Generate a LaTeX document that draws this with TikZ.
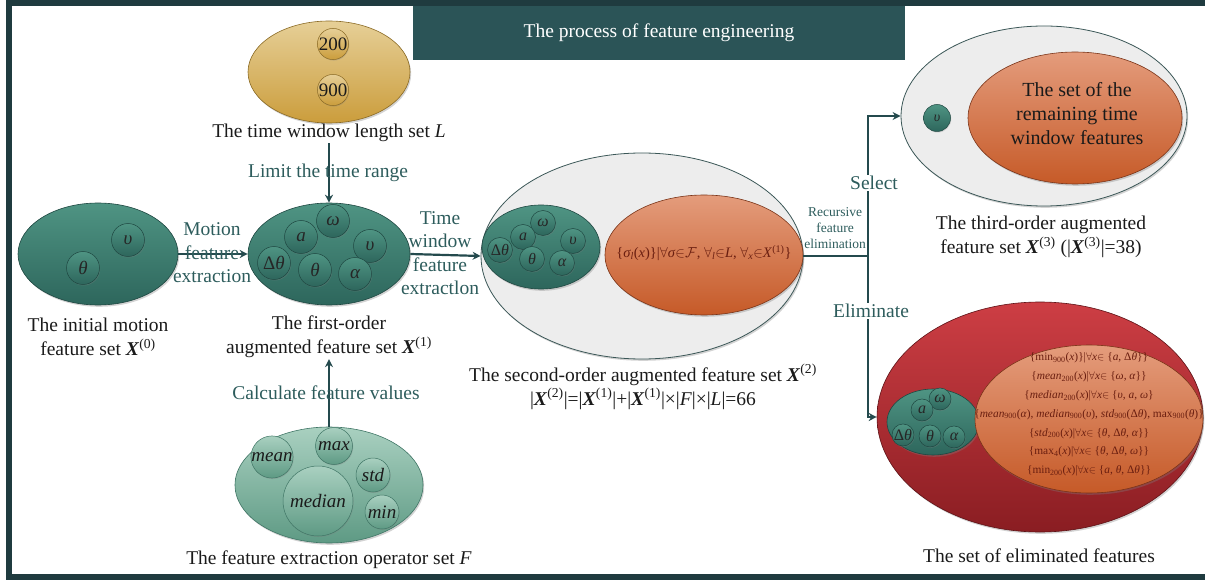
\documentclass[tikz,border=0pt]{standalone}
\usepackage{fontspec}
\setmainfont{Liberation Serif}
\usetikzlibrary{shapes.geometric,shadows,arrows.meta}
\definecolor{framec}{HTML}{1F3B3F}
\definecolor{bannerc}{HTML}{2B5457}
\definecolor{tealtxt}{HTML}{2D5C5C}
\definecolor{arrc}{HTML}{244A4D}
\definecolor{tealT}{HTML}{4F9483}
\definecolor{tealB}{HTML}{2D665C}
\definecolor{tealD}{HTML}{1F4842}
\definecolor{goldT}{HTML}{E6CF97}
\definecolor{goldB}{HTML}{CB9D3C}
\definecolor{goldD}{HTML}{8A6A25}
\definecolor{ltealT}{HTML}{A9D0C0}
\definecolor{ltealB}{HTML}{5E9A84}
\definecolor{ltealD}{HTML}{3F7565}
\definecolor{greyF}{HTML}{EDEDED}
\definecolor{greyD}{HTML}{3B5757}
\definecolor{orT}{HTML}{E49C7C}
\definecolor{orB}{HTML}{C65A28}
\definecolor{orD}{HTML}{7A3418}
\definecolor{redT}{HTML}{CD3E44}
\definecolor{redB}{HTML}{8A1D22}
\definecolor{redD}{HTML}{5E1216}
\definecolor{ortxt}{HTML}{6A1E10}
\definecolor{labblack}{HTML}{1A1A1A}
\newcommand{\bX}{\textbf{\textit{X}}}
\newcommand{\myfa}{$\forall$}
\newcommand{\myin}{$\in$}
\begin{document}
\begin{tikzpicture}[x=1pt,y=-1pt,
  shad/.style={drop shadow={shadow xshift=1.2pt,shadow yshift=-1.8pt,opacity=.35}},
  sshad/.style={drop shadow={shadow xshift=.7pt,shadow yshift=-1pt,opacity=.3}},
  setlab/.style={font=\fontsize{19.5}{24}\selectfont, text=labblack, align=center, inner sep=1pt},
  actlab/.style={font=\fontsize{19.5}{23.5}\selectfont, text=tealtxt, align=center, inner sep=1pt},
  arr/.style={draw=arrc, line width=2.2pt, -{Stealth[length=8pt,width=8pt]}},
  plainline/.style={draw=arrc, line width=2.2pt},
  tealset/.style={ellipse, inner sep=0, top color=tealT, bottom color=tealB, draw=tealD, line width=.6pt, shad},
  elem/.style={circle, inner sep=0, minimum size=#1, top color=tealT, bottom color=tealB, draw=tealD, line width=.5pt, text=black!85, sshad},
  elem/.default=33,
  gelem/.style={circle, inner sep=0, minimum size=31, top color=goldT, bottom color=goldB, draw=goldD, line width=.5pt, text=labblack, font=\fontsize{19}{20}\selectfont, sshad},
  lelem/.style={circle, inner sep=0, minimum size=#1, top color=ltealT, bottom color=ltealB, draw=ltealD, line width=.5pt, text=labblack, font=\fontsize{19}{20}\selectfont\itshape, sshad},
  greyset/.style={ellipse, inner sep=0, fill=greyF, draw=greyD, line width=.8pt, shad},
  orset/.style={ellipse, inner sep=0, top color=orT, bottom color=orB, draw=orD, line width=.6pt, shad},
  bigf/.style={font=\fontsize{19}{20}\selectfont\itshape},
  midf/.style={font=\fontsize{16}{17}\selectfont\itshape}
]
\useasboundingbox (0,0) rectangle (1205,580);
% frame
\draw[framec, line width=6pt] (1205,3) -- (9,3) -- (9,576.5) -- (1205,576.5);
\node[fill=bannerc, minimum width=492, minimum height=54, inner sep=0, text=white, font=\fontsize{19.5}{22}\selectfont] (title) at (659,33) {The process of feature engineering};

% time window set L
\node[ellipse, inner sep=0, minimum width=162, minimum height=102, top color=goldT, bottom color=goldB, draw=goldD, line width=.6pt, shad] (L) at (329,72) {};
\node[gelem] (l200) at (333,44) {200};
\node[gelem] (l900) at (333,90) {900};
\node[setlab] (Llab) at (329,133) {The time window length set \textit{L}};

% X0
\node[tealset, minimum width=160, minimum height=102] (X0) at (98,254) {};
\node[elem, bigf] (x0v) at (128,240) {υ};
\node[elem, bigf] (x0t) at (83,268) {θ};
\node[setlab] (X0lab) at (98,337) {The initial motion\\feature set \bX\textsuperscript{(0)}};

% X1
\node[tealset, minimum width=162, minimum height=102] (X1) at (329,254) {};
\node[elem, bigf] (x1w) at (333,221) {ω};
\node[elem, bigf] (x1a) at (301,237) {a};
\node[elem, bigf] (x1v) at (370,246) {υ};
\node[elem, bigf] (x1d) at (274,263) {{\upshape Δ}θ};
\node[elem, bigf] (x1t) at (315,270) {θ};
\node[elem, bigf] (x1al) at (355,274) {α};
\node[setlab] (X1lab) at (329,337) {The first-order\\augmented feature set \bX\textsuperscript{(1)}};

% F
\node[ellipse, inner sep=0, minimum width=188, minimum height=116, top color=ltealT, bottom color=ltealB, draw=ltealD, line width=.6pt, shad] (F) at (329,485) {};
\node[lelem=38] (fmean) at (272,457) {mean};
\node[lelem=37] (fmax) at (334,446) {max};
\node[lelem=34] (fstd) at (373,475) {std};
\node[lelem=70] (fmed) at (318,501) {median};
\node[lelem=34] (fmin) at (382,512) {min};
\node[setlab] (Flab) at (329,560) {The feature extraction operator set \textit{F}};

% X2
\node[greyset, minimum width=322, minimum height=206] (X2) at (642,256) {};
\node[tealset, minimum width=118, minimum height=84] (X2t) at (541,247) {};
\node[elem=25, midf] (x2w) at (543,223) {ω};
\node[elem=25, midf] (x2a) at (523,237) {a};
\node[elem=25, midf] (x2v) at (573,241) {υ};
\node[elem=25, midf] (x2d) at (500,250) {{\upshape Δ}θ};
\node[elem=25, midf] (x2t) at (532,259) {θ};
\node[elem=25, midf] (x2al) at (562,263) {α};
\node[orset, minimum width=198, minimum height=120] (X2o) at (704,255) {};
\node[text=ortxt, font=\fontsize{14.5}{16}\selectfont, inner sep=0] (X2otxt) at (704,253) {\{\textit{σ\textsubscript{l}}(\textit{x})\}|\myfa\textit{σ}\myin$\mathcal{F}$, \myfa\textsubscript{\textit{l}}\myin\textit{L}, \myfa\textsubscript{\textit{x}}\myin\textit{X}\textsuperscript{(1)}\}};
\node[setlab] (X2lab) at (643,387) {The second-order augmented feature set \bX\textsuperscript{(2)}\\|\bX\textsuperscript{(2)}|=|\bX\textsuperscript{(1)}|+|\bX\textsuperscript{(1)}|×|\textit{F}|×|\textit{L}|=66};

% X3
\node[greyset, minimum width=286, minimum height=180] (X3) at (1044,116) {};
\node[orset, minimum width=214, minimum height=132] (X3o) at (1075,118) {};
\node[font=\fontsize{20}{24}\selectfont, text=labblack, align=center] (X3otxt) at (1077,114) {The set of the\\remaining time\\window features};
\node[elem=27, font=\fontsize{14}{15}\selectfont\itshape] (x3v) at (937,118) {υ};
\node[setlab] (X3lab) at (1041,237) {The third-order augmented\\feature set \bX\textsuperscript{(3)} (|\bX\textsuperscript{(3)}|=38)};

% eliminated
\node[ellipse, inner sep=0, minimum width=326, minimum height=230, top color=redT, bottom color=redB, draw=redD, line width=.6pt, shad] (R) at (1040,417) {};
\node[tealset, minimum width=92, minimum height=66] (Rt) at (933,422) {};
\node[elem=22, midf] (rw) at (940,399) {ω};
\node[elem=22, midf] (ra) at (922,410) {a};
\node[elem=22, midf] (rd) at (903,435) {{\upshape Δ}θ};
\node[elem=22, midf] (rt) at (930,436) {θ};
\node[elem=22, midf] (ral) at (954,437) {α};
\node[orset, minimum width=228, minimum height=148] (Ro) at (1089,419) {};
\node[font=\fontsize{11.4}{18.8}\selectfont, text=ortxt, align=center, inner sep=0] (Rotxt) at (1089,414.5) {%
\{min\textsubscript{900}(\textit{x})\}|\myfa\textit{x}\myin\ \{\textit{a}, Δ\textit{θ}\}\}\\
\{\textit{mean}\textsubscript{200}(\textit{x})|\myfa\textit{x}\myin\ \{\textit{ω}, \textit{α}\}\}\\
\{\textit{median}\textsubscript{200}(\textit{x})|\myfa\textit{x}\myin\ \{\textit{υ}, \textit{a}, \textit{ω}\}\\
\{\textit{mean}\textsubscript{900}(\textit{α}), \textit{median}\textsubscript{900}(\textit{υ}), \textit{std}\textsubscript{900}(Δ\textit{θ}), max\textsubscript{900}(\textit{θ})\}\\
\{\textit{std}\textsubscript{200}(\textit{x})|\myfa\textit{x}\myin\ \{\textit{θ}, Δ\textit{θ}, \textit{α}\}\}\\
\{max\textsubscript{4}(\textit{x})|\myfa\textit{x}\myin\ \{\textit{θ}, Δ\textit{θ}, \textit{ω}\}\}\\
\{min\textsubscript{200}(\textit{x})|\myfa\textit{x}\myin\ \{\textit{a}, \textit{θ}, Δ\textit{θ}\}\}};
\node[setlab] (Elab) at (1039,556) {The set of eliminated features};

% connectors
\draw[arr] (Llab.south) -- (X1.north);
\node[actlab] (limit) at (328,173) {Limit the time range};
\draw[arr] (F.north) -- (X1lab.south);
\node[actlab] (calc) at (326,393) {Calculate feature values};
\draw[arr] (X0.east) -- (X1.west);
\node[actlab] (motion) at (212,253) {Motion\\feature\\extraction};
\draw[arr] (X1.east) -- (X2.west);
\node[actlab] (twfe) at (440,253) {Time\\window\\feature\\extractlon};
\coordinate (j) at (868,256);
\draw[plainline] (X2.east) -- (j);
\draw[arr] (j) |- (X3.west);
\draw[arr] (j) |- (R.west);
\node[font=\fontsize{13.5}{16}\selectfont, text=tealtxt, align=center, inner sep=0] (rfel) at (835,228) {Recursive\\feature\\elimination};
\node[actlab, fill=white] (sel) at (874,183) {Select};
\node[actlab, fill=white] (elim) at (871,311) {Eliminate};
\end{tikzpicture}
\end{document}
